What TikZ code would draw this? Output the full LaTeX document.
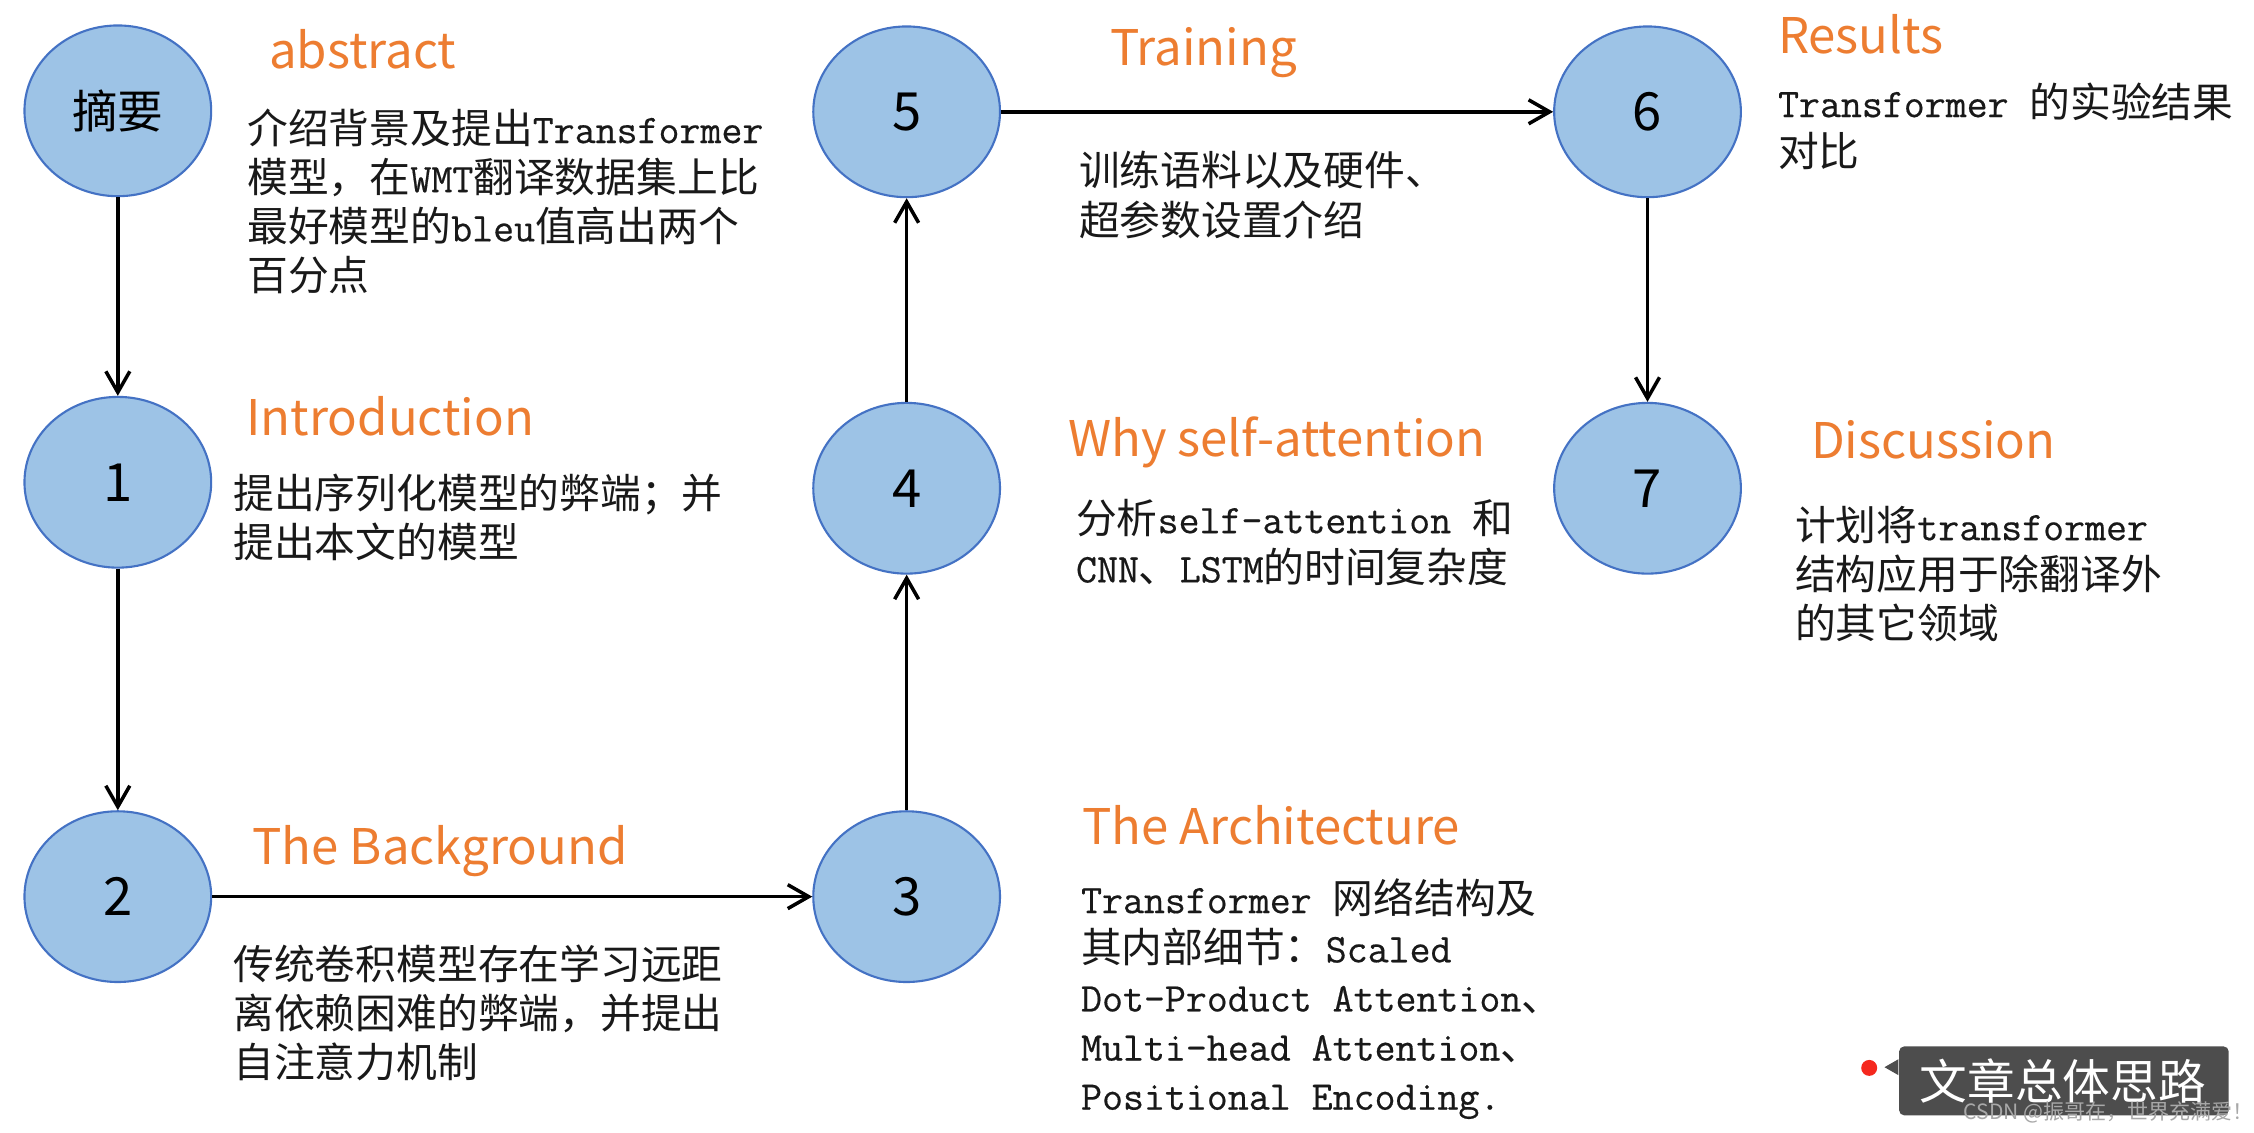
\documentclass[tikz,border=0pt]{standalone}
\usepackage{fontspec}
\setmainfont{Noto Sans CJK SC}
\newfontfamily\monofam[FakeBold=0.4]{Latin Modern Mono}
\usepackage{tikz}
\usetikzlibrary{shapes.geometric,arrows.meta,positioning}

\definecolor{stagefill}{HTML}{9DC3E6}
\definecolor{stageline}{HTML}{4472C4}
\definecolor{titleorange}{HTML}{ED7D31}
\definecolor{tagfill}{HTML}{4D4D4D}
\definecolor{dotred}{HTML}{F5281E}
\definecolor{markgray}{HTML}{A8A8A8}
\newcommand\mono[1]{{\monofam\fontsize{11.6pt}{14pt}\selectfont #1}}

\begin{document}
\begin{tikzpicture}[x=1cm,y=1cm,>={Straight Barb[length=2.1mm,width=2.4mm]},
  stage/.style={ellipse,draw=stageline,fill=stagefill,line width=0.6pt,minimum width=1.87cm,minimum height=1.71cm,inner sep=0pt,font=\fontsize{15pt}{18pt}\selectfont},
  title/.style={anchor=base west,inner sep=0pt,text=titleorange,font=\fontsize{14pt}{17pt}\selectfont},
  note/.style={anchor=north west,inner sep=0pt,align=left,text=black!90,font=\fontsize{11.62pt}{14pt}\selectfont},
  flow/.style={->,line width=1pt}]
\path[fill=white] (0,0) rectangle (22.54,11.34);

% the eight parts of the paper
\node[stage,font=\fontsize{13pt}{16pt}\selectfont] (abstract) at (1.18,10.23) {摘要};
\node[stage] (intro) at (1.18,6.51) {1};
\node[stage] (background) at (1.18,2.36) {2};
\node[stage] (arch) at (9.08,2.36) {3};
\node[stage] (why) at (9.08,6.45) {4};
\node[stage] (training) at (9.08,10.22) {5};
\node[stage] (results) at (16.50,10.22) {6};
\node[stage] (discussion) at (16.50,6.45) {7};

% headings
\node[title] (abstract-title) at (2.69,10.65) {abstract};
\node[title] (intro-title) at (2.46,6.98) {Introduction};
\node[title] (background-title) at (2.52,2.68) {The Background};
\node[title] (arch-title) at (10.83,2.88) {The Architecture};
\node[title] (why-title) at (10.69,6.77) {Why self-attention};
\node[title] (training-title) at (11.11,10.68) {Training};
\node[title] (results-title) at (17.80,10.80) {Results};
\node[title] (discussion-title) at (18.13,6.75) {Discussion};

% short notes
\node[note] (abstract-text) at (2.47,10.26) {介绍背景及提出\mono{Transformer}\\模型，在\mono{WMT}翻译数据集上比\\最好模型的\mono{bleu}值高出两个\\百分点};
\node[note] (intro-text) at (2.33,6.60) {提出序列化模型的弊端；并\\提出本文的模型};
\node[note] (background-text) at (2.33,1.885) {传统卷积模型存在学习远距\\离依赖困难的弊端，并提出\\自注意力机制};
\node[note] (arch-text) at (10.82,2.55) {\mono{Transformer }网络结构及\\其内部细节：\mono{Scaled}\\\mono{Dot-Product Attention}、\\\mono{Multi-head Attention}、\\\mono{Positional Encoding.}};
\node[note] (why-text) at (10.77,6.35) {分析\mono{self-attention }和\\\mono{CNN}、\mono{LSTM}的时间复杂度};
\node[note] (training-text) at (10.80,9.83) {训练语料以及硬件、\\超参数设置介绍};
\node[note] (results-text) at (17.80,10.52) {\mono{Transformer }的实验结果\\对比};
\node[note] (discussion-text) at (17.97,6.28) {计划将\mono{transformer}\\结构应用于除翻译外\\的其它领域};

% reading order
\draw[flow] (abstract) -- (intro);
\draw[flow] (intro) -- (background);
\draw[flow] (background) -- (arch);
\draw[flow] (arch) -- (why);
\draw[flow] (why) -- (training);
\draw[flow] (training) -- (results);
\draw[flow] (results) -- (discussion);

% caption tag
\node[circle,fill=dotred,inner sep=0pt,minimum size=0.16cm] (dot) at (18.72,0.645) {};
\node[fill=tagfill,rounded corners=0.05cm,minimum width=3.3cm,minimum height=0.69cm,inner sep=0pt] (tag) at (20.67,0.515) {};
\fill[tagfill] ([yshift=-0.135cm]tag.north west) -- ([xshift=-0.14cm,yshift=-0.215cm]tag.north west) -- ([yshift=-0.295cm]tag.north west) -- cycle;
\node[inner sep=0pt,text=white,font=\fontsize{13.6pt}{16pt}\selectfont] (tag-text) at (20.66,0.51) {文章总体思路};
\node[inner sep=0pt,text=markgray,font=\fontsize{6pt}{7pt}\selectfont] (mark) at (21.12,0.20) {CSDN @振哥在，世界充满爱！};
\end{tikzpicture}
\end{document}
